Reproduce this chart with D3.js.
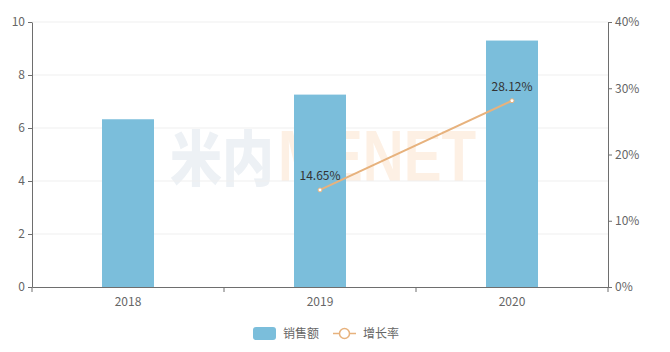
<!DOCTYPE html>
<html><head><meta charset="utf-8">
<script src="https://cdn.jsdelivr.net/npm/d3@7"></script>
<style>
body{margin:0;background:#fff;}
text{font-family:"Microsoft YaHei","Noto Sans CJK SC","Open Sans",sans-serif;}
</style></head>
<body><div id="chart"></div>
<script>
var years=["2018","2019","2020"];
var sales=[6.33,7.26,9.30];
var growth=[null,14.65,28.12];
var leftTicks=[0,2,4,6,8,10];
var rightTicks=[0,10,20,30,40];

var W=670,H=352, m={top:22,right:62,bottom:65,left:32};
var width=W-m.left-m.right, height=H-m.top-m.bottom;
var svg=d3.select("#chart").append("svg").attr("width",W).attr("height",H);
var g=svg.append("g").attr("transform","translate("+m.left+","+m.top+")");

var x=d3.scaleBand().domain(years).range([0,width]);
var y=d3.scaleLinear().domain([0,10]).range([height,0]);
var y2=d3.scaleLinear().domain([0,40]).range([height,0]);

// grid
g.append("g").selectAll("line").data(leftTicks.slice(1)).join("line")
  .attr("x1",0).attr("x2",width).attr("y1",function(d){return y(d);}).attr("y2",function(d){return y(d);})
  .attr("stroke","#efefef");

// watermark (sits behind the bars)
var wm=svg.append("g").attr("transform","translate(170,181)");
wm.append("text").attr("textLength",104).attr("lengthAdjust","spacingAndGlyphs")
  .style("font-size","60px").style("font-weight","900").attr("fill","#edf1f5").text("米内");
wm.append("text").attr("x",108).attr("textLength",198).attr("lengthAdjust","spacingAndGlyphs")
  .style("font-size","72px").style("font-weight","bold").style("font-family","Arial, 'Liberation Sans', sans-serif")
  .attr("fill","#fdf0e4").text("MENET");
g.node().parentNode.insertBefore(wm.node(),g.node());

// bars
var bw=52;
g.append("g").selectAll("rect").data(sales).join("rect")
  .attr("x",function(d,i){return x(years[i])+x.bandwidth()/2-bw/2;})
  .attr("width",bw).attr("y",function(d){return y(d);})
  .attr("height",function(d){return height-y(d);}).attr("fill","#7bbedb");

// axes
function styleAxis(sel){
  sel.selectAll("path,line").attr("stroke","#6e6e6e");
  sel.selectAll("text").attr("fill","#666").style("font-size","12px");
}
g.append("g").call(d3.axisLeft(y).tickValues(leftTicks).tickSize(4).tickSizeOuter(0).tickPadding(3)).call(styleAxis);
g.append("g").attr("transform","translate("+width+",0)")
  .call(d3.axisRight(y2).tickValues(rightTicks).tickSize(4).tickSizeOuter(0).tickPadding(3).tickFormat(function(d){return d+"%";})).call(styleAxis);
var xa=g.append("g").attr("transform","translate(0,"+height+")")
  .call(d3.axisBottom(x).tickSize(0).tickSizeOuter(0).tickPadding(10));
xa.call(styleAxis);
xa.selectAll(".bd").data(d3.range(years.length+1)).join("line").attr("class","bd")
  .attr("x1",function(i){return i*x.step();}).attr("x2",function(i){return i*x.step();})
  .attr("y1",0).attr("y2",5).attr("stroke","#6e6e6e");

// growth line
var pts=growth.map(function(v,i){return {year:years[i],v:v};}).filter(function(d){return d.v!==null;});
var line=d3.line().x(function(d){return x(d.year)+x.bandwidth()/2;}).y(function(d){return y2(d.v);});
g.append("path").datum(pts).attr("d",line).attr("fill","none").attr("stroke","#e7b27d").attr("stroke-width",2);
g.append("g").selectAll("circle").data(pts).join("circle")
  .attr("cx",function(d){return x(d.year)+x.bandwidth()/2;}).attr("cy",function(d){return y2(d.v);})
  .attr("r",2).attr("fill","#fff").attr("stroke","#e7b27d").attr("stroke-width",1);
g.append("g").selectAll("text").data(pts).join("text")
  .attr("x",function(d){return x(d.year)+x.bandwidth()/2;}).attr("y",function(d){return y2(d.v)-10;})
  .attr("text-anchor","middle").attr("fill","#333").style("font-size","12px")
  .text(function(d){return d.v.toFixed(2)+"%";});

// legend
var lg=svg.append("g").attr("transform","translate(253,327)");
lg.append("rect").attr("width",23).attr("height",13).attr("rx",3).attr("fill","#7bbedb");
lg.append("text").attr("x",30).attr("y",11).attr("fill","#666").style("font-size","12px").text("销售额");
lg.append("line").attr("x1",80).attr("x2",103).attr("y1",6.5).attr("y2",6.5).attr("stroke","#e7b27d").attr("stroke-width",1.5);
lg.append("circle").attr("cx",91.5).attr("cy",6.5).attr("r",5).attr("fill","#fff").attr("stroke","#e7b27d").attr("stroke-width",1.5);
lg.append("text").attr("x",110).attr("y",11).attr("fill","#666").style("font-size","12px").text("增长率");
</script></body></html>
